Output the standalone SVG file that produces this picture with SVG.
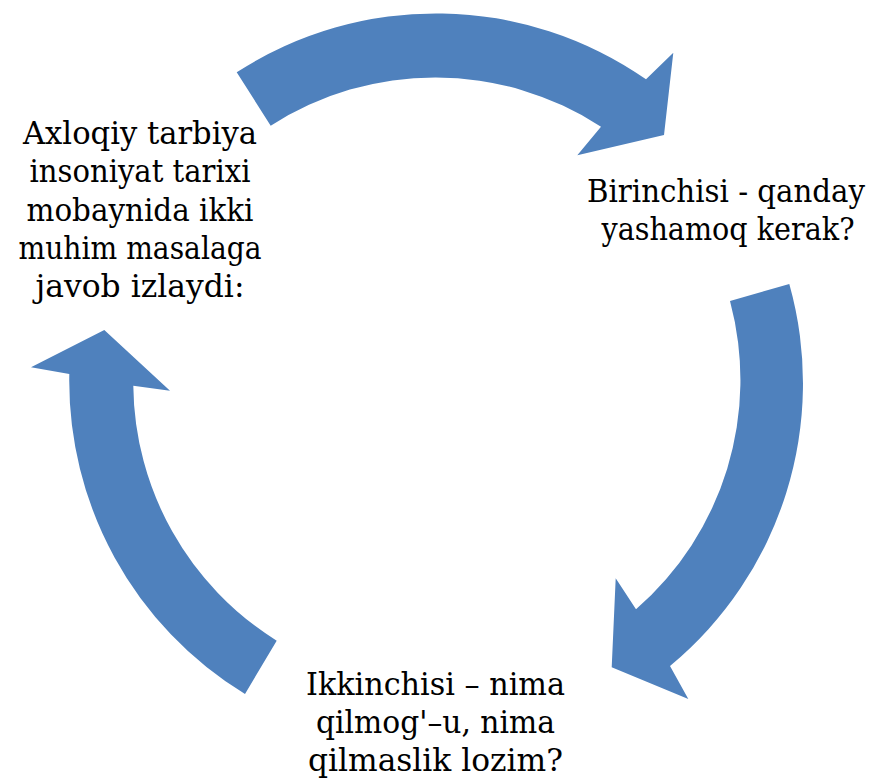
<svg xmlns="http://www.w3.org/2000/svg" width="878" height="778" viewBox="0 0 878 778">
  <style>
    .arrow { fill: #4F81BD; stroke: none; }
    text { font-family: 'DejaVu Serif', 'Liberation Serif', serif; font-size: 31px; fill: #000000; text-anchor: middle; }
  </style>
  <rect width="878" height="778" fill="#FFFFFF"/>
  <g id="connectors">
    <path id="arrow-top" class="arrow" d="M 236.7 72.3 A 367 367 0 0 1 646 79.3 L 673.3 52.7 L 664 135 L 577.3 155.3 L 601 126.7 A 304 304 0 0 0 270.7 125.7 Z"/>
    <path id="arrow-right" class="arrow" d="M 789.3 284 A 367 367 0 0 1 670 666 L 688.3 699 L 611.7 667.3 L 615.7 578.3 L 636 609.3 A 304 304 0 0 0 730 301 Z"/>
    <path id="arrow-left" class="arrow" d="M 245 694 A 367 367 0 0 1 69.3 374 L 31 367.3 L 104.3 330 L 170 390.7 L 133.3 385.7 A 304 304 0 0 0 276.7 640.7 Z"/>
  </g>
  <g id="node-left">
    <text x="140" y="144" textLength="234" lengthAdjust="spacingAndGlyphs">Axloqiy tarbiya</text>
    <text x="140" y="182.3" textLength="221" lengthAdjust="spacingAndGlyphs">insoniyat tarixi</text>
    <text x="140" y="220.6" textLength="227" lengthAdjust="spacingAndGlyphs">mobaynida ikki</text>
    <text x="140" y="258.9" textLength="243" lengthAdjust="spacingAndGlyphs">muhim masalaga</text>
    <text x="140" y="297.2" textLength="209" lengthAdjust="spacingAndGlyphs">javob izlaydi:</text>
  </g>
  <g id="node-right">
    <text x="726" y="201.7" font-size="29" textLength="278" lengthAdjust="spacingAndGlyphs">Birinchisi - qanday</text>
    <text x="728" y="239.7" textLength="253" lengthAdjust="spacingAndGlyphs">yashamoq kerak?</text>
  </g>
  <g id="node-bottom">
    <text x="435.5" y="695" textLength="259" lengthAdjust="spacingAndGlyphs">Ikkinchisi – nima</text>
    <text x="435.5" y="733" textLength="239" lengthAdjust="spacingAndGlyphs">qilmog'–u, nima</text>
    <text x="435.5" y="771" textLength="255" lengthAdjust="spacingAndGlyphs">qilmaslik lozim?</text>
  </g>
</svg>
